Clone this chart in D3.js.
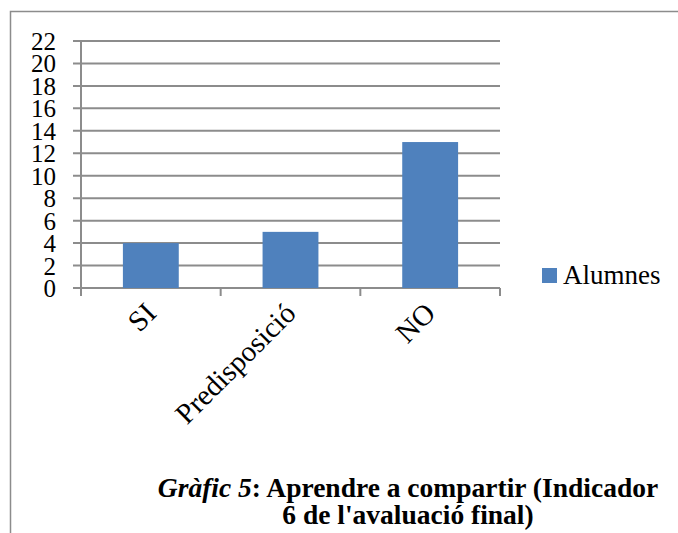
<!DOCTYPE html>
<html>
<head>
<meta charset="utf-8">
<script src="https://cdn.jsdelivr.net/npm/d3@7"></script>
<style>
body { margin: 0; background: #fff; }
text { font-family: "Liberation Serif", "DejaVu Serif", serif; fill: #000; }
</style>
</head>
<body>
<svg width="678" height="533"></svg>
<script>
var categories = ["SI", "Predisposició", "NO"];
var alumnes = [4, 5, 13];
var yTicks = [0, 2, 4, 6, 8, 10, 12, 14, 16, 18, 20, 22];
var seriesName = "Alumnes";
var titleItalic = "Gràfic 5";
var titleLine1 = ": Aprendre a compartir (Indicador";
var titleLine2 = "6 de l'avaluació final)";

var svg = d3.select("svg");

// chart frame (only top and left edges fall inside the picture)
svg.append("rect")
  .attr("x", 10.5).attr("y", 11.5)
  .attr("width", 720).attr("height", 600)
  .attr("fill", "none")
  .attr("stroke", "#8c8c8c")
  .attr("stroke-width", 1.5);

var plot = {left: 81, right: 500, top: 41, bottom: 288};

var y = d3.scaleLinear()
  .domain([0, 22])
  .range([plot.bottom, plot.top]);

var xCat = d3.scaleBand()
  .domain(categories)
  .range([plot.left, plot.right])
  .paddingInner(0.6)
  .paddingOuter(0.3);

var xEdge = d3.scaleLinear()
  .domain([0, categories.length])
  .range([plot.left, plot.right]);

// gridlines
svg.append("g")
  .selectAll("line")
  .data(yTicks)
  .enter().append("line")
  .attr("x1", plot.left - 8)
  .attr("x2", plot.right)
  .attr("y1", function(d) { return y(d); })
  .attr("y2", function(d) { return y(d); })
  .attr("stroke", "#8c8c8c")
  .attr("stroke-width", 2);

// y axis line
svg.append("line")
  .attr("x1", plot.left).attr("x2", plot.left)
  .attr("y1", plot.top).attr("y2", plot.bottom + 8)
  .attr("stroke", "#8c8c8c")
  .attr("stroke-width", 2);

// category ticks
svg.append("g")
  .selectAll("line")
  .data(d3.range(1, categories.length + 1))
  .enter().append("line")
  .attr("x1", function(d) { return xEdge(d); })
  .attr("x2", function(d) { return xEdge(d); })
  .attr("y1", plot.bottom)
  .attr("y2", plot.bottom + 8)
  .attr("stroke", "#8c8c8c")
  .attr("stroke-width", 2);

// bars
svg.append("g")
  .selectAll("rect")
  .data(alumnes)
  .enter().append("rect")
  .attr("x", function(d, i) { return xCat(categories[i]); })
  .attr("y", function(d) { return y(d); })
  .attr("width", xCat.bandwidth())
  .attr("height", function(d) { return y(0) - y(d); })
  .attr("fill", "#4f81bd");

// y labels
svg.append("g")
  .selectAll("text")
  .data(yTicks)
  .enter().append("text")
  .attr("x", 56)
  .attr("y", function(d) { return y(d); })
  .attr("dy", "0.36em")
  .attr("text-anchor", "end")
  .style("font-size", "25px")
  .text(function(d) { return d; });

// category labels
svg.append("g")
  .selectAll("text")
  .data(categories)
  .enter().append("text")
  .attr("text-anchor", "end")
  .attr("transform", function(d) {
    var cx = xCat(d) + xCat.bandwidth() / 2 + 7;
    return "translate(" + cx + "," + (plot.bottom + 27) + ") rotate(-45)";
  })
  .style("font-size", "29px")
  .text(function(d) { return d; });

// legend
svg.append("rect")
  .attr("x", 542).attr("y", 268)
  .attr("width", 15).attr("height", 15)
  .attr("fill", "#4f81bd");
svg.append("text")
  .attr("x", 563).attr("y", 284)
  .style("font-size", "27px")
  .text(seriesName);

// caption
var cap = svg.append("text")
  .attr("x", 408).attr("y", 497)
  .attr("text-anchor", "middle")
  .style("font-size", "27.5px")
  .style("font-weight", "bold");
cap.append("tspan").style("font-style", "italic").text(titleItalic);
cap.append("tspan").text(titleLine1);
svg.append("text")
  .attr("x", 408).attr("y", 524)
  .attr("text-anchor", "middle")
  .style("font-size", "27.5px")
  .style("font-weight", "bold")
  .text(titleLine2);
</script>
</body>
</html>
